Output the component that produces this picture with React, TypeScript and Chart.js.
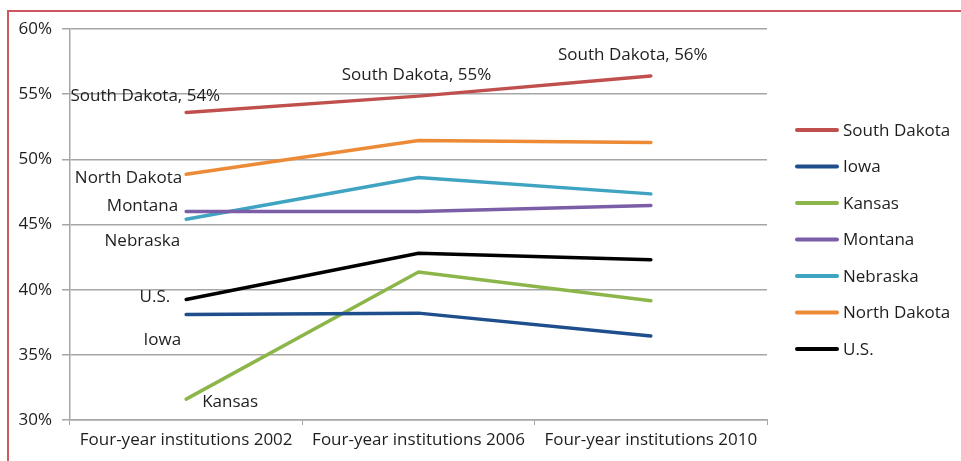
import React, { useEffect, useRef } from "react";
import { Chart, registerables } from "chart.js";

Chart.register(...registerables);

const categories = ["Four-year institutions 2002", "Four-year institutions 2006", "Four-year institutions 2010"];
const seriesNames = ["South Dakota", "Iowa", "Kansas", "Montana", "Nebraska", "North Dakota", "U.S."];
const southDakota = [53.6, 54.85, 56.4];
const iowa = [38.1, 38.2, 36.45];
const kansas = [31.6, 41.35, 39.15];
const montana = [46.0, 46.0, 46.45];
const nebraska = [45.4, 48.6, 47.35];
const northDakota = [48.85, 51.45, 51.3];
const us = [39.25, 42.8, 42.3];
const seriesColors = ["#c0504d", "#1f4e8c", "#8db64a", "#7b5ea7", "#3fa3c2", "#ec8a36", "#000000"];
const yTicks = [30, 35, 40, 45, 50, 55, 60];

const FONT = "'Open Sans', 'Liberation Sans', sans-serif";
const FS = 17;
const TEXT = "#1e1e1e";

// point labels: dataset index, point index, text
const pointLabels: [number, number, string][] = [
  [0, 0, "South Dakota, 54%"],
  [0, 1, "South Dakota, 55%"],
  [0, 2, "South Dakota, 56%"],
  [5, 0, "North Dakota"],
  [3, 0, "Montana"],
  [4, 0, "Nebraska"],
  [6, 0, "U.S."],
  [1, 0, "Iowa"],
  [2, 0, "Kansas"],
];
// layout of point labels (dx, dy, align) kept apart from the data
const labelLayout: [number, number, CanvasTextAlign][] = [
  [34, -16, "right"],
  [-2, -21, "center"],
  [-18, -21, "center"],
  [-4, 4, "right"],
  [-8, -5, "right"],
  [-6, 22, "right"],
  [-16, -2, "right"],
  [-5, 26, "right"],
  [16, 3, "left"],
];

const labelPlugin = {
  id: "pointLabels",
  afterDatasetsDraw(chart: any) {
    const ctx = chart.ctx;
    ctx.save();
    ctx.font = `${FS}px ${FONT}`;
    ctx.fillStyle = TEXT;
    ctx.textBaseline = "middle";
    pointLabels.forEach(([di, pi, text], i) => {
      const el = chart.getDatasetMeta(di).data[pi];
      const [dx, dy, align] = labelLayout[i];
      ctx.textAlign = align;
      ctx.fillText(text, el.x + dx, el.y + dy);
    });
    ctx.restore();
  },
};

const legendPlugin = {
  id: "customLegend",
  afterDraw(chart: any) {
    const ctx = chart.ctx;
    ctx.save();
    ctx.font = `${FS}px ${FONT}`;
    ctx.fillStyle = TEXT;
    ctx.textBaseline = "middle";
    ctx.textAlign = "left";
    const x0 = chart.chartArea.right + 30;
    const y0 = 130;
    const step = 36.5;
    chart.data.datasets.forEach((ds: any, i: number) => {
      const y = y0 + i * step;
      ctx.strokeStyle = ds.borderColor;
      ctx.lineWidth = 4;
      ctx.lineCap = "round";
      ctx.beginPath();
      ctx.moveTo(x0, y);
      ctx.lineTo(x0 + 40, y);
      ctx.stroke();
      ctx.fillText(ds.label, x0 + 46, y + 1);
    });
    ctx.restore();
  },
};

export default function App() {
  const ref = useRef<HTMLCanvasElement>(null);
  useEffect(() => {
    if (!ref.current) return;
    const all = [southDakota, iowa, kansas, montana, nebraska, northDakota, us];
    const chart = new Chart(ref.current, {
      type: "line",
      data: {
        labels: categories,
        datasets: all.map((d, i) => ({
          label: seriesNames[i],
          data: d,
          borderColor: seriesColors[i],
          backgroundColor: seriesColors[i],
          borderWidth: 3.5,
          pointRadius: 0,
          tension: 0,
          borderCapStyle: "round" as const,
        })),
      },
      options: {
        animation: false,
        responsive: false,
        layout: { padding: { top: 29, right: 194, left: 0, bottom: 0 } },
        plugins: { legend: { display: false }, tooltip: { enabled: false } },
        scales: {
          x: {
            type: "category",
            offset: true,
            grid: { drawOnChartArea: false, drawTicks: true, tickLength: 5, color: "#a6a6a6", offset: true },
            border: { display: true, color: "#a6a6a6", width: 1.5 },
            ticks: { color: TEXT, font: { family: FONT, size: FS }, padding: 5, maxRotation: 0 },
            afterFit: (s: any) => { s.height = 41; },
          },
          y: {
            min: 30,
            max: 60,
            afterBuildTicks: (s: any) => { s.ticks = yTicks.map((v) => ({ value: v })); },
            grid: { color: "#a6a6a6", lineWidth: 1.5, tickLength: 8 },
            border: { display: true, color: "#a6a6a6", width: 1.5 },
            ticks: { color: TEXT, font: { family: FONT, size: FS }, padding: 10, callback: (v: any) => v + "%" },
            afterFit: (s: any) => { s.width = 70; },
          },
        },
      },
      plugins: [labelPlugin, legendPlugin],
    });
    return () => chart.destroy();
  }, []);
  return (
    <div style={{ position: "fixed", left: 0, top: 0, width: 961, height: 461, overflow: "hidden", background: "#fff" }}>
      <div style={{ position: "absolute", left: 7, top: 10, width: 1100, height: 600, borderLeft: "2px solid #cd5860", borderTop: "2px solid #cd5860" }} />
      <canvas ref={ref} width={961} height={461} style={{ position: "absolute", left: 0, top: 0 }} />
    </div>
  );
}
